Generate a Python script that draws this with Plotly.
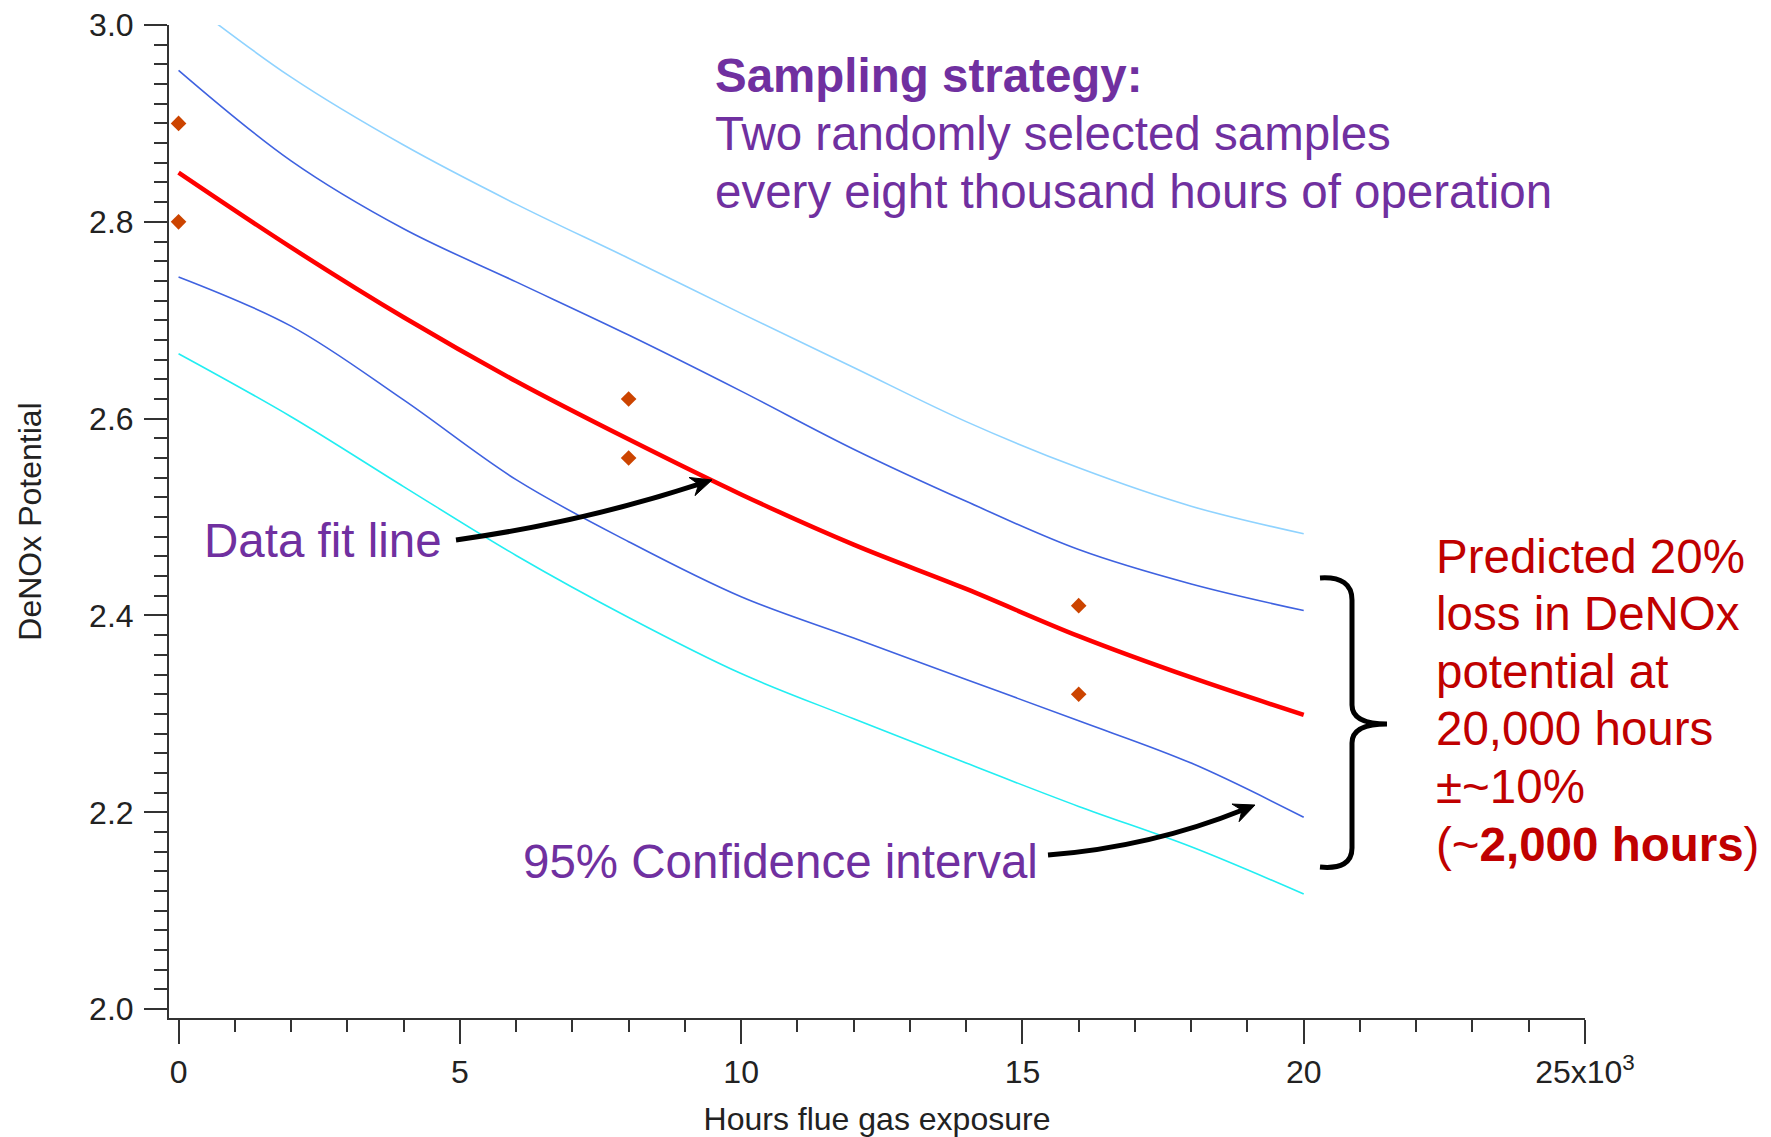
import math
import plotly.graph_objects as go

# ---------------- data (x in thousands of hours) ----------------
HOURS_K = [0, 2, 4, 6, 8, 10, 12, 14, 16, 18, 20]
FIT_LINE = [2.850, 2.774, 2.703, 2.638, 2.579, 2.523, 2.472, 2.427, 2.379, 2.337, 2.299]
CI_UPPER = [2.954, 2.862, 2.793, 2.739, 2.685, 2.628, 2.569, 2.516, 2.467, 2.432, 2.405]
CI_LOWER = [2.744, 2.694, 2.619, 2.538, 2.475, 2.419, 2.377, 2.335, 2.293, 2.250, 2.195]
PI_UPPER = [3.031, 2.947, 2.878, 2.818, 2.763, 2.707, 2.652, 2.597, 2.550, 2.511, 2.483]
PI_LOWER = [2.666, 2.602, 2.531, 2.461, 2.398, 2.341, 2.295, 2.250, 2.206, 2.165, 2.117]

SAMPLE_HOURS_K = [0, 0, 8, 8, 16, 16]
SAMPLE_VALUES = [2.90, 2.80, 2.62, 2.56, 2.41, 2.32]

X_TICKS = [0, 5, 10, 15, 20, 25]
X_TICK_TEXT = ["0", "5", "10", "15", "20", "25x10<sup>3</sup>"]
Y_TICKS = [2.0, 2.2, 2.4, 2.6, 2.8, 3.0]
Y_TICK_TEXT = ["2.0", "2.2", "2.4", "2.6", "2.8", "3.0"]

FONT = "Liberation Sans, Arial, sans-serif"
PURPLE = "#7030A0"
DARKRED = "#C00000"
AXIS = "#333333"

W, H = 1771, 1137
L, R, T, B = 169, 186, 25, 119
X_RANGE = [-0.17, 25]
Y_RANGE = [1.991, 3.0]

fig = go.Figure()

fig.add_trace(go.Scatter(x=HOURS_K, y=PI_LOWER, mode="lines", line=dict(color="#22EEF2", width=1.6, shape="spline"), showlegend=False))
fig.add_trace(go.Scatter(x=HOURS_K, y=PI_UPPER, mode="lines", line=dict(color="#8FD3FF", width=1.6, shape="spline"), showlegend=False))
fig.add_trace(go.Scatter(x=HOURS_K, y=CI_LOWER, mode="lines", line=dict(color="#3F62E0", width=1.6, shape="spline"), showlegend=False))
fig.add_trace(go.Scatter(x=HOURS_K, y=CI_UPPER, mode="lines", line=dict(color="#3F62E0", width=1.6, shape="spline"), showlegend=False))
fig.add_trace(go.Scatter(x=HOURS_K, y=FIT_LINE, mode="lines", line=dict(color="#FF0000", width=4.5, shape="spline"), showlegend=False))
fig.add_trace(go.Scatter(x=SAMPLE_HOURS_K, y=SAMPLE_VALUES, mode="markers",
                         marker=dict(symbol="diamond", size=12, color="#CC4400"), showlegend=False, cliponaxis=False))

# ---------------- helpers: pixel -> data for annotation geometry ----------------
def px_x(xp):
    return X_RANGE[0] + (xp - L) / (W - L - R) * (X_RANGE[1] - X_RANGE[0])

def px_y(yp):
    return Y_RANGE[1] - (yp - T) / (H - T - B) * (Y_RANGE[1] - Y_RANGE[0])

def pt(p):
    return f"{px_x(p[0]):.4f},{px_y(p[1]):.4f}"

def arrow_shapes(start, ctrl, tip, head_len=21, half_w=9.5, notch=14):
    dx, dy = tip[0] - ctrl[0], tip[1] - ctrl[1]
    n = math.hypot(dx, dy)
    ux, uy = dx / n, dy / n
    nx, ny = -uy, ux
    end = (tip[0] - 12 * ux, tip[1] - 12 * uy)
    shaft = dict(type="path", xref="x", yref="y",
                 path=f"M {pt(start)} Q {pt(ctrl)} {pt(end)}",
                 line=dict(color="black", width=5))
    b1 = (tip[0] - head_len * ux + half_w * nx, tip[1] - head_len * uy + half_w * ny)
    b2 = (tip[0] - head_len * ux - half_w * nx, tip[1] - head_len * uy - half_w * ny)
    nt = (tip[0] - notch * ux, tip[1] - notch * uy)
    head = dict(type="path", xref="x", yref="y",
                path=f"M {pt(tip)} L {pt(b1)} L {pt(nt)} L {pt(b2)} Z",
                fillcolor="black", line=dict(color="black", width=1))
    return [shaft, head]

shapes = []
shapes += arrow_shapes((456, 540), (584, 522), (712, 480))
shapes += arrow_shapes((1048, 855), (1151, 847), (1255, 805))
# curly brace
brace = (f"M {pt((1320, 578))} Q {pt((1352, 576))} {pt((1352, 600))} "
         f"L {pt((1352, 705))} Q {pt((1352, 724))} {pt((1387, 724))} "
         f"Q {pt((1352, 724))} {pt((1352, 743))} L {pt((1352, 848))} "
         f"Q {pt((1352, 870))} {pt((1320, 867))}")
shapes.append(dict(type="path", xref="x", yref="y", path=brace, line=dict(color="black", width=5)))

annotations = []

def line_text(text, xp, baseline, color, size=47.5):
    annotations.append(dict(x=px_x(xp), y=px_y(baseline - 0.33 * size), xref="x", yref="y",
                            text=text, showarrow=False, xanchor="left", yanchor="middle",
                            font=dict(family=FONT, size=size, color=color)))

# sampling strategy block
line_text("<b>Sampling strategy:</b>", 713, 91, PURPLE)
line_text("Two randomly selected samples", 713, 149, PURPLE)
line_text("every eight thousand hours of operation", 713, 207, PURPLE)
# arrow labels
line_text("Data fit line", 202, 556, PURPLE)
line_text("95% Confidence interval", 521, 877, PURPLE)
# red block
red_lines = ["Predicted 20%", "loss in DeNOx", "potential at", "20,000 hours", "\u00b1~10%",
             "(~<b>2,000 hours</b>)"]
red_baselines = [572, 629, 687, 744, 802, 860]
for t, b in zip(red_lines, red_baselines):
    line_text(t, 1434, b, DARKRED)

fig.update_layout(
    width=W, height=H,
    margin=dict(l=L, r=R, t=T, b=B, autoexpand=False),
    paper_bgcolor="white", plot_bgcolor="white",
    font=dict(family=FONT, size=32, color="#222222"),
    shapes=shapes, annotations=annotations,
    xaxis=dict(range=X_RANGE, tickmode="array", tickvals=X_TICKS, ticktext=X_TICK_TEXT,
               ticks="outside", ticklen=24, tickwidth=1.5, tickcolor=AXIS,
               showline=True, linecolor=AXIS, linewidth=2, showgrid=False, zeroline=False,
               ticklabelstandoff=1,
               minor=dict(tickmode="linear", tick0=0, dtick=1, ticks="outside", ticklen=12,
                          tickwidth=1.5, tickcolor=AXIS, showgrid=False),
               title=dict(text="Hours flue gas exposure", standoff=22,
                          font=dict(family=FONT, size=32, color="#222222"))),
    yaxis=dict(range=Y_RANGE, tickmode="array", tickvals=Y_TICKS, ticktext=Y_TICK_TEXT,
               ticks="outside", ticklen=23, tickwidth=1.5, tickcolor=AXIS,
               showline=True, linecolor=AXIS, linewidth=2, showgrid=False, zeroline=False,
               ticklabelstandoff=4,
               minor=dict(tickmode="linear", tick0=2.0, dtick=0.02, ticks="outside", ticklen=13,
                          tickwidth=1.5, tickcolor=AXIS, showgrid=False),
               title=dict(text="DeNOx Potential", standoff=38,
                          font=dict(family=FONT, size=32, color="#222222"))),
)

fig.write_html("out.html")
